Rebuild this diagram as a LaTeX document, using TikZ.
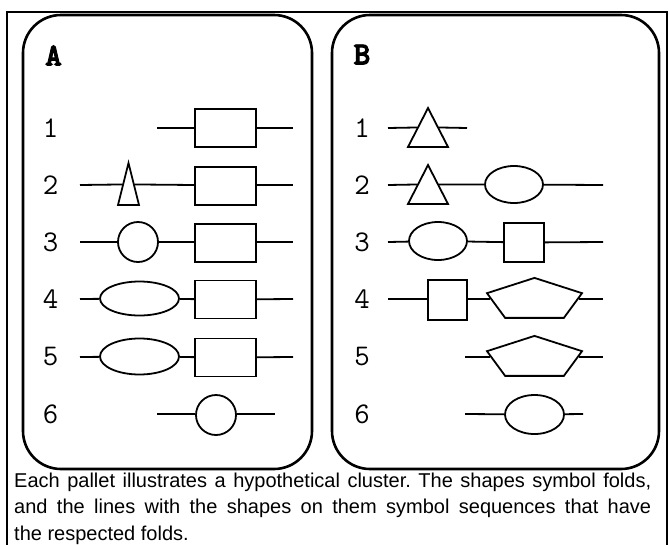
\documentclass[tikz,border=0pt]{standalone}
\usepackage{fontspec}
\setmainfont{Liberation Sans}
\newfontfamily\tagfont{lmmonolt10-bold.otf}[FakeBold=3]
\usetikzlibrary{shapes.geometric,calc}

\begin{document}
\frenchspacing
\begin{tikzpicture}[x=1pt,y=-1pt,
  shp/.style={draw, line width=1.8pt, fill=white, inner sep=0pt},
  box/.style={shp, rectangle, minimum width=61pt, minimum height=38pt},
  sq/.style={shp, rectangle, minimum width=39pt, minimum height=39pt},
  rnd/.style={shp, circle, minimum size=40pt},
  oval/.style n args={2}{shp, ellipse, minimum width=#1, minimum height=#2},
  tri/.style n args={2}{shp, regular polygon, regular polygon sides=3,
    minimum size=#1, xscale=#2, transform shape},
  pent/.style={shp, regular polygon, regular polygon sides=5,
    minimum size=44.2pt, xscale=2.26, transform shape},
  link/.style={line width=1.8pt},
  panel/.style={draw, line width=2.6pt, rounded corners=38pt, inner sep=0pt},
  num/.style={font=\ttfamily\fontsize{30}{30}\selectfont, inner sep=0pt},
  tag/.style={font=\tagfont\fontsize{32}{32}\selectfont, inner sep=0pt},
  caption/.style={font=\fontsize{20}{27}\selectfont, inner sep=0pt, anchor=base west},
]
\useasboundingbox (0,0) rectangle (669,544);

% outer frame
\draw[line width=1.6pt] (7,548) -- (7,12) -- (667,12) -- (667,548);

% the two pallets
\node[panel, minimum width=289pt, minimum height=454pt] (palA) at (167.5,242) {};
\node[panel, minimum width=327pt, minimum height=454pt] (palB) at (495.5,242) {};

\node[tag] (tagA) at (53.5,55.5) {A};
\node[tag] (tagB) at (362,54.5) {B};

% row numbers
\foreach \i/\y in {1/128,2/185,3/242,4/299,5/357,6/414}{
  \node[num] (nA\i) at (50.5,\y) {\i};
  \node[num] (nB\i) at (362,\y) {\i};
}

% ---------- pallet A ----------
% row 1
\coordinate (a1s) at (157,128); \coordinate (a1e) at (293,128);
\node[box] (a1r) at (225.5,128) {};
\draw[link] (a1s) -- (a1r) -- (a1e);
% row 2
\coordinate (a2s) at (80,185); \coordinate (a2e) at (293,185);
\node[tri={56pt}{0.433}] (a2t) at (128.5,191) {};
\node[box] (a2r) at (225.5,186) {};
\draw[link] (a2s) -- ($(a2t.corner 1)!0.52!(a2t.corner 2)$);
\draw[link] ($(a2t.corner 1)!0.52!(a2t.corner 3)$) -- (a2r.west |- a2s);
\draw[link] (a2r.east |- a2e) -- (a2e);
% row 3
\coordinate (a3s) at (80,242); \coordinate (a3e) at (293,242);
\node[rnd] (a3c) at (138,242) {};
\node[box] (a3r) at (225.5,243) {};
\draw[link] (a3s) -- (a3c) -- (a3c -| a3r.west);
\draw[link] (a3r.east |- a3e) -- (a3e);
% row 4
\coordinate (a4s) at (80,299); \coordinate (a4e) at (293,299);
\node[oval={79pt}{34pt}] (a4o) at (139.5,298.5) {};
\node[box] (a4r) at (225.5,299.5) {};
\draw[link] (a4s) -- (a4o) -- (a4r) -- (a4e);
% row 5
\coordinate (a5s) at (80,357); \coordinate (a5e) at (293,357);
\node[oval={79pt}{36pt}] (a5o) at (139.5,356.5) {};
\node[box] (a5r) at (225.5,357.5) {};
\draw[link] (a5s) -- (a5o) -- (a5r) -- (a5e);
% row 6
\coordinate (a6s) at (157,414); \coordinate (a6e) at (275,414);
\node[rnd] (a6c) at (216,415) {};
\draw[link] (a6s) -- (a6s -| a6c.west);
\draw[link] (a6e -| a6c.east) -- (a6e);

% ---------- pallet B ----------
% row 1
\coordinate (b1s) at (388,128); \coordinate (b1e) at (467,128);
\node[tri={52pt}{0.889}] (b1t) at (428,134) {};
\draw[link] (b1s) -- ($(b1t.corner 1)!0.51!(b1t.corner 2)$);
\draw[link] ($(b1t.corner 1)!0.51!(b1t.corner 3)$) -- (b1e);
% row 2
\coordinate (b2s) at (388,185); \coordinate (b2e) at (603,185);
\node[tri={52pt}{0.889}] (b2t) at (428,191) {};
\node[oval={58pt}{37pt}] (b2o) at (514,184.5) {};
\draw[link] (b2s) -- ($(b2t.corner 1)!0.51!(b2t.corner 2)$);
\draw[link] ($(b2t.corner 1)!0.51!(b2t.corner 3)$) -- (b2o) -- (b2e);
% row 3
\coordinate (b3s) at (388,242); \coordinate (b3e) at (603,242);
\node[oval={58pt}{38pt}] (b3o) at (438,241) {};
\node[sq, minimum width=40pt] (b3q) at (524,242.5) {};
\draw[link] (b3s) -- (b3o) -- (b3q) -- (b3e);
% row 4
\coordinate (b4s) at (388,299); \coordinate (b4e) at (603,299);
\node[sq, minimum height=40pt] (b4q) at (447.5,300) {};
\node[pent] (b4p) at (534.5,300) {};
\draw[link] (b4s) -- (b4s -| b4q.west);
\draw[link] (b4q.east |- b4s) -- (b4p.west |- b4s);
\draw[link] (b4p.east |- b4e) -- (b4e);
% row 5
\coordinate (b5s) at (465,357); \coordinate (b5e) at (603,357);
\node[pent] (b5p) at (534.5,358) {};
\draw[link] (b5s) -- (b5p.west |- b5s);
\draw[link] (b5p.east |- b5e) -- (b5e);
% row 6
\coordinate (b6s) at (465,414); \coordinate (b6e) at (583,414);
\node[oval={59pt}{39pt}] (b6o) at (534.5,414.5) {};
\draw[link] (b6s) -- (b6o) -- (b6e);

% caption
\node[caption] (cap1) at (14,487) {\makebox[637pt][s]{Each pallet illustrates a hypothetical cluster. The shapes symbol folds,}};
\node[caption] (cap2) at (14,513.5) {\makebox[637pt][s]{and the lines with the shapes on them symbol sequences that have}};
\node[caption] (cap3) at (14,540) {the respected folds.};
\end{tikzpicture}
\end{document}
